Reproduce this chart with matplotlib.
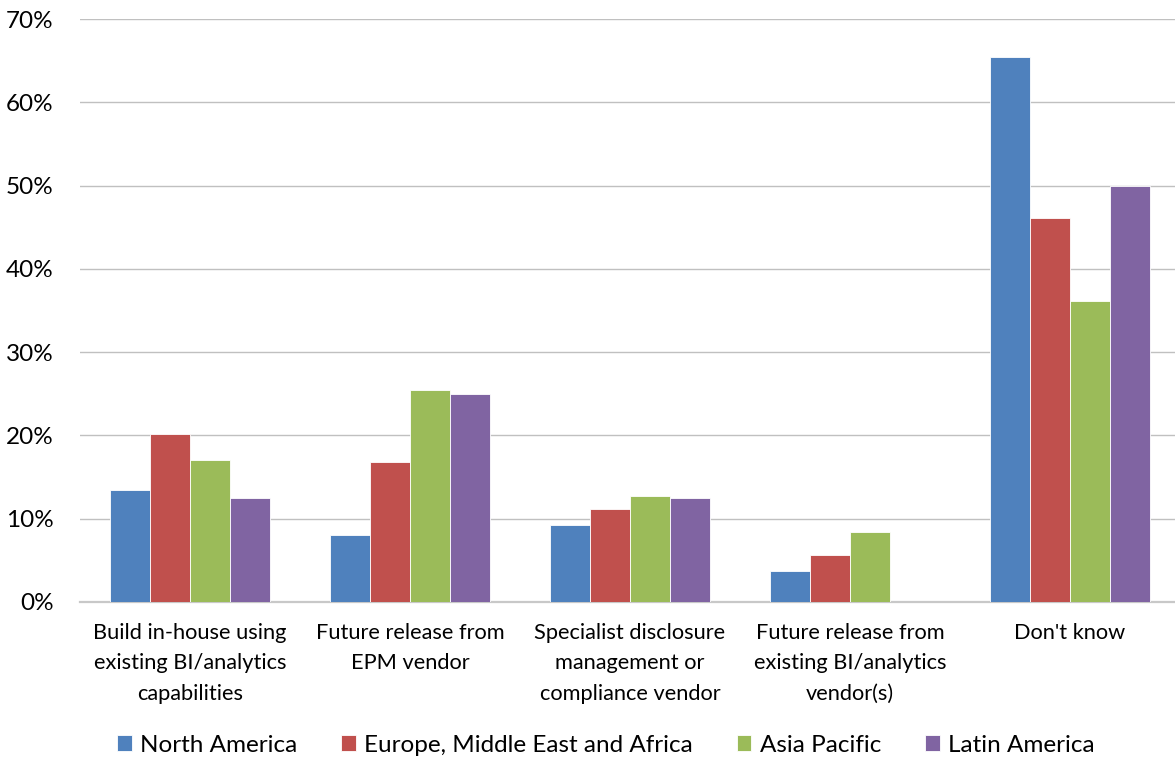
import matplotlib
matplotlib.use("Agg")
import matplotlib.pyplot as plt
import numpy as np
from matplotlib.ticker import FuncFormatter

plt.rcParams['font.family'] = ['Lato', 'DejaVu Sans']

categories = [
    "Build in-house using\nexisting BI/analytics\ncapabilities",
    "Future release from\nEPM vendor",
    "Specialist disclosure\nmanagement or\ncompliance vendor",
    "Future release from\nexisting BI/analytics\nvendor(s)",
    "Don't know",
]
series_names = ["North America", "Europe, Middle East and Africa", "Asia Pacific", "Latin America"]
north_america = [13.5, 8.0, 9.2, 3.7, 65.4]
emea = [20.2, 16.8, 11.2, 5.6, 46.1]
asia_pacific = [17.0, 25.5, 12.7, 8.4, 36.1]
latin_america = [12.5, 25.0, 12.5, 0.0, 50.0]
colors = ["#4F81BD", "#C0504D", "#9BBB59", "#8064A2"]
y_ticks = [0, 10, 20, 30, 40, 50, 60, 70]

fig = plt.figure(figsize=(11.75, 7.59), dpi=100)
ax = fig.add_axes([80 / 1175, 1 - 602 / 759, 1100 / 1175, (602 - 19) / 759])

x = np.arange(len(categories))
bw = 0.182
all_series = [north_america, emea, asia_pacific, latin_america]
for i, (vals, name, c) in enumerate(zip(all_series, series_names, colors)):
    ax.bar(x + (i - 1.5) * bw, vals, width=bw, color=c, label=name,
           edgecolor="white", linewidth=0.6, zorder=3)

ax.set_xlim(-0.5, len(categories) - 0.5)
ax.set_ylim(0, 70)
ax.set_yticks(y_ticks)
ax.yaxis.set_major_formatter(FuncFormatter(lambda v, p: f"{int(v)}%"))
ax.grid(axis="y", color="#C0C0C0", linewidth=1.0, zorder=0)
ax.set_axisbelow(True)
for s in ["top", "right", "left"]:
    ax.spines[s].set_visible(False)
ax.spines["bottom"].set_color("#C8C8C8")
ax.spines["bottom"].set_linewidth(1.6)
ax.tick_params(axis="y", length=0, labelsize=17.5, pad=19, colors="black")
ax.tick_params(axis="x", length=0, labelsize=15.7, pad=15)
ax.set_xticks(x)
ax.set_xticklabels(categories, linespacing=1.65)

handles, labels = ax.get_legend_handles_labels()
leg = fig.legend(handles, labels, loc="center", bbox_to_anchor=(606 / 1175, 1 - 745 / 759),
                 ncol=4, frameon=False, fontsize=17.5, handlelength=0.6, handleheight=0.6,
                 handletextpad=0.35, columnspacing=1.8)

fig.savefig("out.png", dpi=100)
